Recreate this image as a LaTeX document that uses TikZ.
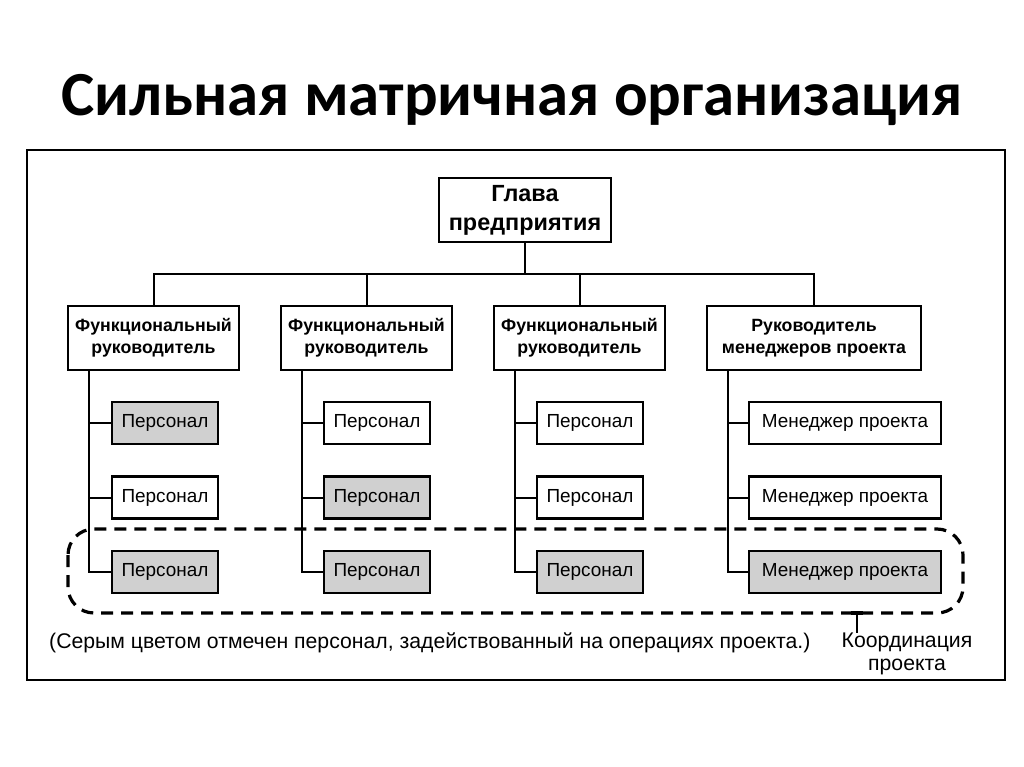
\documentclass[tikz,border=0pt]{standalone}
\usepackage{fontspec}
\setmainfont{Liberation Sans}
\newfontfamily\titlefont{Carlito}
\definecolor{staffgrey}{RGB}{208,208,208}
\begin{document}
\begin{tikzpicture}[x=1bp,y=-1bp,
  box/.style={draw=black,line width=2.4bp,fill=white,inner sep=0pt,align=center},
  headbox/.style={box,minimum width=172bp,minimum height=64bp,font=\fontsize{23.5}{29}\selectfont\bfseries},
  mgrbox/.style={box,minimum width=171bp,minimum height=64bp,font=\fontsize{17.8}{22}\selectfont\bfseries},
  staffbox/.style={box,minimum width=106bp,minimum height=42bp,font=\fontsize{19}{22}\selectfont},
  pmbox/.style={staffbox,minimum width=192bp},
  grey/.style={fill=staffgrey},
  conn/.style={line width=2bp},
  coord/.style={line width=3.2bp,dash pattern=on 12bp off 8bp,rounded corners=26bp}
]
\useasboundingbox (0,0) rectangle (1024,767);
\fill[white] (0,0) rectangle (1024,767);
% title
\node[font=\titlefont\fontsize{63}{66}\selectfont\bfseries] (title) at (512,100) {Сильная матричная организация};
% frame
\draw[line width=2.6bp] (27,150) rectangle (1005,680);
% head
\node[headbox] (head) at (525,210) {Глава\\предприятия};
% managers
\node[mgrbox] (f1) at (153.5,338) {Функциональный\\руководитель};
\node[mgrbox] (f2) at (366.5,338) {Функциональный\\руководитель};
\node[mgrbox] (f3) at (579.5,338) {Функциональный\\руководитель};
\node[mgrbox,minimum width=214bp] (f4) at (814,338) {Руководитель\\менеджеров проекта};
% bar
\coordinate (bar) at (525,274);
\draw[conn] (head.south) -- (bar);
\draw[conn] (f1.north) |- (bar) -| (f4.north);
\draw[conn] (f2.north) -- (f2.north |- bar);
\draw[conn] (f3.north) -- (f3.north |- bar);
% staff
\node[staffbox,grey] (s11) at (165,423) {Персонал};
\node[staffbox] (s12) at (165,497.5) {Персонал};
\node[staffbox,grey] (s13) at (165,572) {Персонал};
\node[staffbox] (s21) at (377,423) {Персонал};
\node[staffbox,grey] (s22) at (377,497.5) {Персонал};
\node[staffbox,grey] (s23) at (377,572) {Персонал};
\node[staffbox] (s31) at (590,423) {Персонал};
\node[staffbox] (s32) at (590,497.5) {Персонал};
\node[staffbox,grey] (s33) at (590,572) {Персонал};
\node[pmbox] (s41) at (845,423) {Менеджер проекта};
\node[pmbox] (s42) at (845,497.5) {Менеджер проекта};
\node[pmbox,grey] (s43) at (845,572) {Менеджер проекта};
% vertical connectors
\foreach \c in {1,2,3,4}{
  \coordinate (v\c) at ([xshift=22bp]f\c.south west);
  \draw[conn] (v\c) |- (s\c3.west);
  \draw[conn] (s\c1.west) -- (s\c1.west -| v\c);
  \draw[conn] (s\c2.west) -- (s\c2.west -| v\c);
}
% coordination outline
\draw[coord] (68,529) rectangle (963,613);
% note
\node[anchor=west,font=\fontsize{21.3}{24}\selectfont,inner sep=0pt] (note) at (49,643) {(Серым цветом отмечен персонал, задействованный на операциях проекта.)};
\node[align=center,font=\fontsize{21.3}{23}\selectfont,inner sep=0pt] (koord) at (907,654) {Координация\\проекта};
\coordinate (pt) at (857,613);
\draw[conn] (pt) -- (pt |- koord.north);
\draw[line width=3.2bp] ([xshift=-6bp]pt) -- ([xshift=6bp]pt);
\end{tikzpicture}
\end{document}
